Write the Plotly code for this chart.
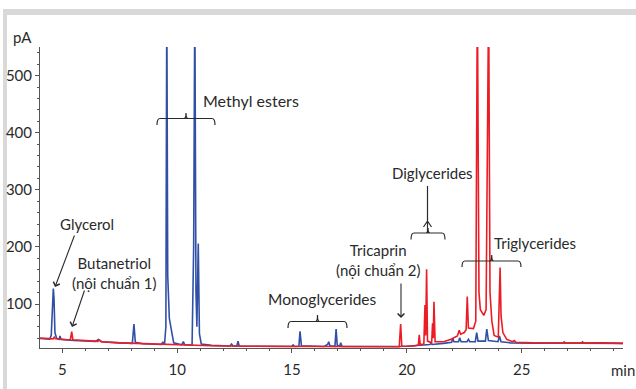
import plotly.graph_objects as go

# ---- data (time in min, signal in pA) ----
blue_t = [4.03, 4.45, 4.52, 4.58, 4.61, 4.64, 4.68, 4.75, 4.86, 4.90, 4.95, 5.5, 6.45, 6.57, 6.7,
          7.5, 8.05, 8.12, 8.18, 8.5, 9.3, 9.38, 9.45, 9.51, 9.55, 9.59, 9.66, 9.76, 9.85,
          10.2, 10.27, 10.33, 10.65, 10.72, 10.77, 10.82, 10.86, 10.92, 10.97, 11.05, 11.5,
          12.3, 12.37, 12.43, 12.6, 12.65, 12.7, 13.5, 14.5, 15.0, 15.05, 15.1, 15.3, 15.35, 15.41,
          16.4, 16.55, 16.6, 16.65, 16.87, 16.92, 16.97, 17.08, 17.12, 17.18, 18.5, 19.5, 20.0,
          20.5, 21.0, 21.05, 21.1, 21.6, 21.95, 22.0, 22.05, 22.25, 22.3, 22.36, 22.62, 22.68,
          22.74, 22.98, 23.04, 23.1, 23.42, 23.48, 23.55, 23.97, 24.03, 24.1, 24.5, 25.5, 26.8,
          26.85, 26.9, 27.6, 27.65, 27.7, 28.5, 29.41]
blue_v = [39.5, 38.5, 45, 120, 127, 110, 50, 40, 38, 44, 38, 36, 34.5, 38, 34,
          32, 31, 65, 33, 30.5, 29, 33, 29, 60, 640, 150, 75, 52, 32,
          28.5, 34, 28.5, 28, 200, 640, 120, 60, 206, 48, 30, 27.5,
          26.5, 30, 26.5, 26.5, 35, 26.5, 26, 25.5, 25.5, 29, 25.5, 26, 52, 27,
          25.5, 29, 34, 27, 26, 56, 28, 26, 32, 25.5, 25, 25.5, 26,
          27, 29, 31, 29, 31, 33, 40, 34, 34, 41, 34, 34, 38,
          34, 34, 50, 35, 35, 56, 36, 34, 44, 34, 32, 31.5, 31.5,
          33.5, 31.5, 31.5, 33.5, 31.5, 32, 31]

red_t = [4.03, 4.6, 4.65, 4.7, 5.35, 5.41, 5.46, 6.0, 6.55, 6.62, 6.7, 7.5, 8.5, 9.5, 10.5,
         11.5, 13.0, 15.0, 17.0, 19.0, 19.67, 19.73, 19.78, 20.3, 20.5, 20.54, 20.58, 20.74,
         20.79, 20.82, 20.86, 20.9, 21.08, 21.12, 21.15, 21.18, 21.23, 21.6, 21.9, 22.2, 22.28,
         22.34, 22.5, 22.58, 22.63, 22.68, 22.9, 23.0, 23.07, 23.14, 23.2, 23.35, 23.45, 23.56,
         23.62, 23.7, 23.8, 23.98, 24.03, 24.06, 24.1, 24.18, 24.35, 24.6, 24.68, 24.75, 25.5,
         27.0, 29.41]
red_v = [40.5, 39, 42, 39, 37, 51.5, 37.5, 35.5, 34.5, 37, 34, 32, 30.5, 29, 28,
         27, 26, 25.5, 25.2, 25, 25.2, 65, 26, 26.5, 28, 46, 29, 30,
         98, 45, 161, 35, 32, 66, 40, 104, 34, 34, 38, 44, 54,
         47, 50, 55, 113, 58, 57, 70, 640, 120, 90, 80, 90, 640,
         120, 70, 45, 42, 120, 164, 80, 50, 38, 34, 36, 33, 32,
         31.5, 31]

x_ticks = [5, 10, 15, 20, 25]
y_ticks = [100, 200, 300, 400, 500]

BLUE = "#3050a8"
RED = "#ec1c24"
TXT = "#2a2a2a"
FONT = "Lato"

W, H = 636, 389
L, R, T, B = 40, 13, 47, 41
PW, PH = W - L - R, H - T - B


def px(x):
    return (x - L) / PW


def py(y):
    return (H - B - y) / PH


fig = go.Figure()
fig.add_trace(go.Scatter(x=blue_t, y=blue_v, mode="lines",
                         line=dict(color=BLUE, width=1.6), hoverinfo="skip"))
fig.add_trace(go.Scatter(x=red_t, y=red_v, mode="lines",
                         line=dict(color=RED, width=1.6), hoverinfo="skip"))

shapes = []
# gray frame (top + left)
shapes.append(dict(type="rect", xref="paper", yref="paper", x0=px(3), x1=px(636),
                   y0=py(15), y1=py(9), fillcolor="#d9d9d9", line=dict(width=0), layer="below"))
shapes.append(dict(type="rect", xref="paper", yref="paper", x0=px(3), x1=px(7),
                   y0=py(389), y1=py(9), fillcolor="#d9d9d9", line=dict(width=0), layer="below"))


def bracket(x0, x1, ybar, yend, xc, ynotch):
    p = (f"M{px(x0)},{py(yend)} Q{px(x0)},{py(ybar)} {px(x0 + 3)},{py(ybar)} "
         f"L{px(x1 - 3)},{py(ybar)} Q{px(x1)},{py(ybar)} {px(x1)},{py(yend)} "
         f"M{px(xc - 2)},{py(ybar)} Q{px(xc)},{py(ybar)} {px(xc)},{py(ynotch)} "
         f"Q{px(xc)},{py(ybar)} {px(xc + 2)},{py(ybar)}")
    shapes.append(dict(type="path", xref="paper", yref="paper", path=p,
                       line=dict(color=TXT, width=1.2)))


bracket(157, 215, 118.5, 125, 186, 113)     # methyl esters
bracket(288, 347, 321.5, 328, 317.5, 315)   # monoglycerides
bracket(411, 445, 233, 239.5, 428, 228)     # diglycerides
bracket(462, 521, 261, 267, 491.7, 255)     # triglycerides
# diglycerides pointer line + caret
shapes.append(dict(type="path", xref="paper", yref="paper",
                   path=f"M{px(427.5)},{py(186)} L{px(427.5)},{py(232)} "
                        f"M{px(423.5)},{py(227)} L{px(427.5)},{py(221)} L{px(431.5)},{py(227)}",
                   line=dict(color=TXT, width=1.2)))

ann = []


def label(text, x, y, size=15, anchor="center"):
    ann.append(dict(text=text, xref="paper", yref="paper", x=px(x), y=py(y),
                    xanchor=anchor, yanchor="middle", showarrow=False,
                    font=dict(family=FONT, size=size, color=TXT)))


def arrow(x0, y0, x1, y1):
    ann.append(dict(text="", xref="paper", yref="paper", x=px(x1), y=py(y1),
                    ax=x0 - x1, ay=y0 - y1, axref="pixel", ayref="pixel",
                    showarrow=True, arrowhead=4, arrowsize=1.2, arrowwidth=1.1,
                    arrowcolor=TXT, standoff=0, startstandoff=0))


label("pA", 22, 37)
label("min", 623, 370)
label("Glycerol", 87, 224)
arrow(75, 234, 55, 287)
label("Butanetriol<br>(nội chuẩn 1)", 114, 272.5)
arrow(85, 289, 72, 327)
label("Methyl esters", 201, 100, size=16, anchor="left")
label("Monoglycerides", 322, 299, size=15.5)
label("Tricaprin<br>(nội chuẩn 2)", 378, 259.5)
arrow(401, 282, 401, 318)
label("Diglycerides", 432, 173)
label("Triglycerides", 535, 243)

fig.update_layout(
    width=W, height=H, margin=dict(l=L, r=R, t=T, b=B, pad=0),
    paper_bgcolor="white", plot_bgcolor="white", showlegend=False,
    font=dict(family=FONT, size=15, color=TXT),
    shapes=shapes, annotations=ann,
    xaxis=dict(range=[4.03, 29.41], tickvals=x_ticks, ticks="outside", ticklen=4,
               tickcolor="#555", showline=True, linecolor="#555", linewidth=1,
               automargin=False, ticklabelstandoff=4,
               showgrid=False, zeroline=False, tickfont=dict(size=15, color=TXT),
               minor=dict(dtick=1, ticks="outside", ticklen=2, tickcolor="#555", showgrid=False)),
    yaxis=dict(range=[22.94, 550.1], tickvals=y_ticks, ticks="outside", ticklen=4,
               tickcolor="#555", showline=True, linecolor="#555", linewidth=1,
               automargin=False,
               showgrid=False, zeroline=False, tickfont=dict(size=15, color=TXT),
               minor=dict(dtick=20, ticks="outside", ticklen=2, tickcolor="#555", showgrid=False)),
)

fig.write_html("out.html")
